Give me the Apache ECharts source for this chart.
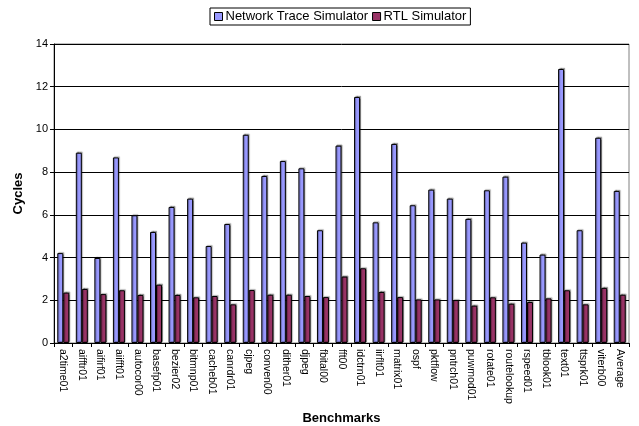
<!DOCTYPE html>
<html><head><meta charset="utf-8">
<script src="https://cdn.jsdelivr.net/npm/echarts@6/dist/echarts.min.js"></script>
<style>html,body{margin:0;padding:0;background:#fff}#c{width:639px;height:426px}</style>
</head><body><div id="c"></div>
<script>
const categories = ["a2time01","aifftr01","aifirf01","aiifft01","autocor00","basefp01","bezier02","bitmnp01","cacheb01","canrdr01","cjpeg","conven00","dither01","djpeg","fbital00","fft00","idctrn01","iirflt01","matrix01","ospf","pktflow","pntrch01","puwmod01","rotate01","routelookup","rspeed01","tblook01","text01","ttsprk01","viterb00","Average"];
const networkTrace = [4.21,8.91,3.98,8.69,5.98,5.20,6.37,6.76,4.54,5.57,9.75,7.82,8.52,8.18,5.28,9.24,11.52,5.65,9.32,6.45,7.18,6.76,5.81,7.15,7.79,4.70,4.14,12.83,5.28,9.61,7.12];
const rtl = [2.36,2.53,2.29,2.47,2.25,2.73,2.25,2.14,2.20,1.81,2.48,2.26,2.26,2.20,2.15,3.11,3.50,2.39,2.15,2.04,2.04,2.01,1.75,2.14,1.84,1.92,2.09,2.47,1.81,2.58,2.26];
const yTicks = [0,2,4,6,8,10,12,14];

const font = "Liberation Sans, Arial, sans-serif";
const chart = echarts.init(document.getElementById('c'));
chart.setOption({
  animation: false,
  textStyle: {fontFamily: font},
  legend: {
    top: 8, left: 210,
    itemWidth: 8, itemHeight: 8, itemGap: 4,
    borderColor: '#000', borderWidth: 1, padding: [2, 4],
    textStyle: {fontFamily: font, fontSize: 13, color: '#000', padding: [0,0,0,-2]},
    data: [{name:'Network Trace Simulator', icon:'rect', itemStyle:{color:'#9999FF', borderColor:'#000', borderWidth:1}},
           {name:'RTL Simulator', icon:'rect', itemStyle:{color:'#993366', borderColor:'#000', borderWidth:1}}]
  },
  grid: {left: 54, right: 10, top: 44, bottom: 83, containLabel: false, outerBoundsMode: 'none', show: true, borderColor: '#808080', borderWidth: 1},
  xAxis: {
    type: 'category', data: categories,
    name: 'Benchmarks', nameLocation: 'middle', nameGap: 66,
    nameTextStyle: {fontFamily: font, fontSize: 13, fontWeight: 'bold', color: '#000'},
    axisLine: {lineStyle: {color: '#000'}},
    axisTick: {show: true, alignWithLabel: false, length: 4, lineStyle: {color: '#000'}},
    axisLabel: {rotate: -90, interval: 0, fontSize: 10.5, color: '#000', fontFamily: font, margin: 6}
  },
  yAxis: {
    type: 'value', min: 0, max: 14, interval: 2,
    name: 'Cycles', nameLocation: 'middle', nameGap: 25,
    nameTextStyle: {fontFamily: font, fontSize: 13, fontWeight: 'bold', color: '#000'},
    axisLine: {show: true, lineStyle: {color: '#000'}},
    axisTick: {show: true, length: 4, lineStyle: {color: '#000'}},
    axisLabel: {fontSize: 11, color: '#000', fontFamily: font, margin: 6,
      formatter: v => yTicks.includes(v) ? String(v) : ''},
    splitLine: {show: true, lineStyle: {color: '#000', width: 1}}
  },
  series: [
    {name: 'Network Trace Simulator', type: 'bar', data: networkTrace, barWidth: 6, barGap: '0%',
     itemStyle: {color: '#9999FF', borderColor: '#000', borderWidth: 1, shadowColor: 'rgba(0,0,0,0.35)', shadowOffsetX: 1, shadowOffsetY: -1, shadowBlur: 1}},
    {name: 'RTL Simulator', type: 'bar', data: rtl, barWidth: 6, barGap: '0%',
     itemStyle: {color: '#993366', borderColor: '#000', borderWidth: 1, shadowColor: 'rgba(0,0,0,0.35)', shadowOffsetX: 1, shadowOffsetY: -1, shadowBlur: 1}}
  ]
});
</script></body></html>
